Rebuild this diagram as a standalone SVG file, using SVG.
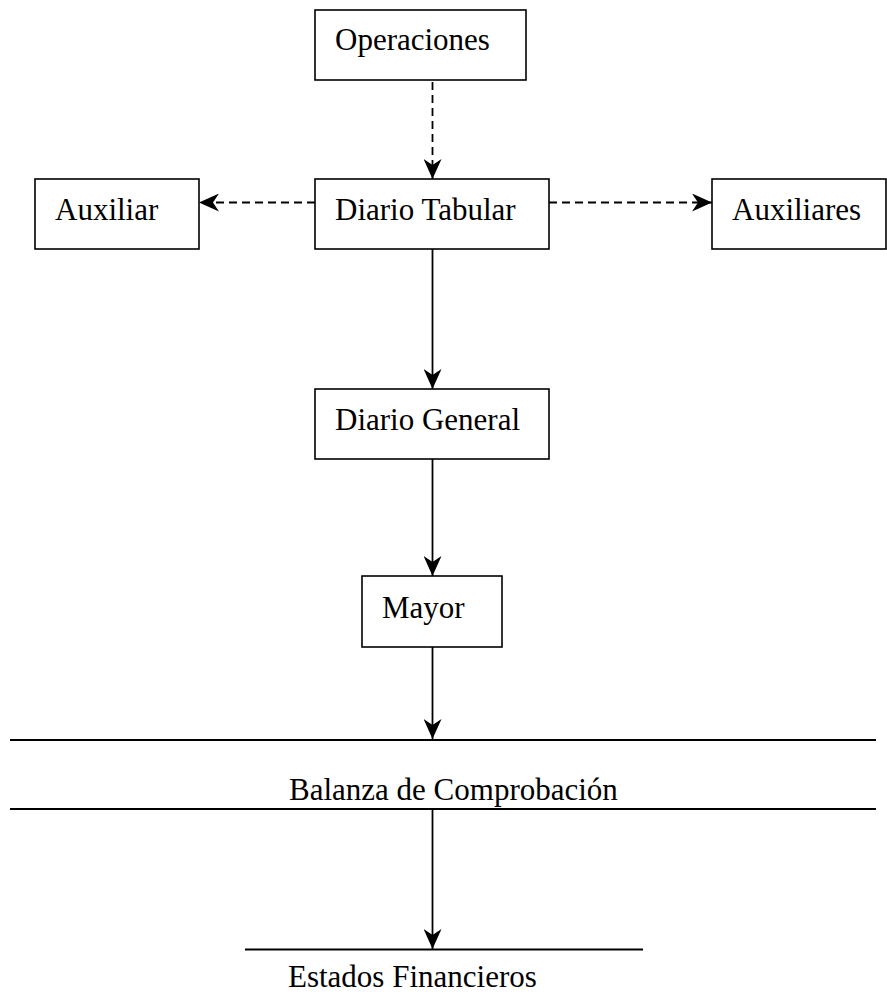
<svg xmlns="http://www.w3.org/2000/svg" width="887" height="994" viewBox="0 0 887 994">
  <style>
    .box { fill: #fff; stroke: #000; stroke-width: 1.6; }
    .lbl { font-family: "Liberation Serif", "Times New Roman", serif; font-size: 31px; fill: #000; }
    .conn { fill: none; stroke: #000; stroke-width: 1.8; }
    .dash { stroke-dasharray: 8 5; }
    .rule { stroke: #000; stroke-width: 2; }
  </style>
  <defs>
    <marker id="arrow" viewBox="0 0 20 18" refX="20" refY="9" markerWidth="20" markerHeight="18" markerUnits="userSpaceOnUse" orient="auto">
      <path d="M0,0 L20,9 L0,18 L6,9 z" fill="#000" stroke="none"/>
    </marker>
  </defs>
  <rect width="887" height="994" fill="#fff"/>

  <g id="connectors">
    <line class="conn dash" x1="432.5" y1="82" x2="432.5" y2="179" marker-end="url(#arrow)"/>
    <line class="conn dash" x1="315" y1="202.5" x2="199" y2="202.5" marker-end="url(#arrow)"/>
    <line class="conn dash" x1="549" y1="202.5" x2="712" y2="202.5" marker-end="url(#arrow)"/>
    <line class="conn" x1="432.5" y1="249" x2="432.5" y2="389" marker-end="url(#arrow)"/>
    <line class="conn" x1="432.5" y1="459" x2="432.5" y2="576" marker-end="url(#arrow)"/>
    <line class="conn" x1="432.5" y1="647" x2="432.5" y2="739" marker-end="url(#arrow)"/>
    <line class="conn" x1="432.5" y1="809" x2="432.5" y2="949" marker-end="url(#arrow)"/>
  </g>

  <g id="operaciones">
    <rect class="box" x="315" y="10" width="211" height="70"/>
    <text class="lbl" x="335" y="50">Operaciones</text>
  </g>
  <g id="diario-tabular">
    <rect class="box" x="315" y="179" width="234" height="70"/>
    <text class="lbl" x="335" y="220">Diario Tabular</text>
  </g>
  <g id="auxiliar">
    <rect class="box" x="35" y="179" width="164" height="70"/>
    <text class="lbl" x="55" y="220">Auxiliar</text>
  </g>
  <g id="auxiliares">
    <rect class="box" x="712" y="179" width="174" height="70"/>
    <text class="lbl" x="732" y="220">Auxiliares</text>
  </g>
  <g id="diario-general">
    <rect class="box" x="315" y="389" width="234" height="70"/>
    <text class="lbl" x="335" y="430">Diario General</text>
  </g>
  <g id="mayor">
    <rect class="box" x="362" y="576" width="140" height="71"/>
    <text class="lbl" x="382" y="618">Mayor</text>
  </g>
  <g id="balanza">
    <line class="rule" x1="10" y1="740" x2="876" y2="740"/>
    <text class="lbl" x="289" y="800" font-size="30.5">Balanza de Comprobación</text>
    <line class="rule" x1="10" y1="809" x2="876" y2="809"/>
  </g>
  <g id="estados">
    <line class="rule" x1="245" y1="949.5" x2="643" y2="949.5"/>
    <text class="lbl" x="288" y="987" font-size="30.5">Estados Financieros</text>
  </g>
</svg>
